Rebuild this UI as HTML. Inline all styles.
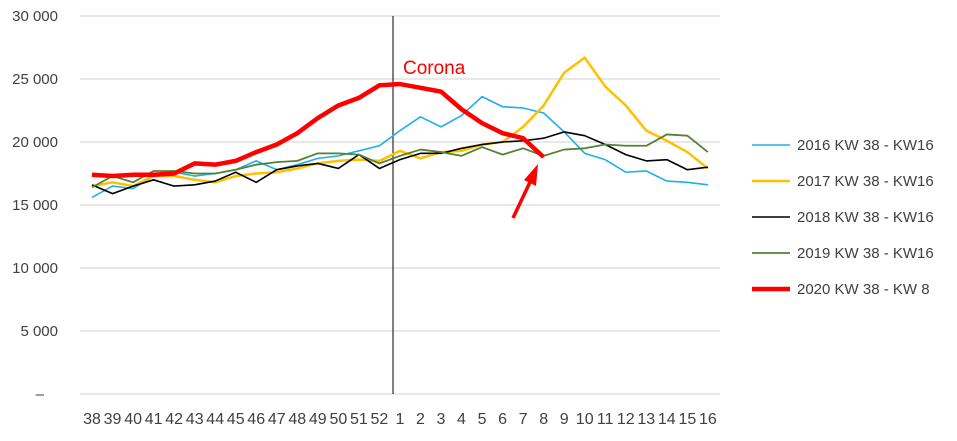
<!DOCTYPE html>
<html><head><meta charset="utf-8"><style>
body{margin:0;background:#fff;}
text{font-family:"Liberation Sans",sans-serif;}
</style></head><body>
<svg width="957" height="436" viewBox="0 0 957 436" xmlns="http://www.w3.org/2000/svg">
<g stroke="#d9d9d9" stroke-width="1.3">
<line x1="80" y1="16" x2="720" y2="16"/><line x1="80" y1="79" x2="720" y2="79"/>
<line x1="80" y1="142" x2="720" y2="142"/><line x1="80" y1="205" x2="720" y2="205"/>
<line x1="80" y1="268" x2="720" y2="268"/><line x1="80" y1="331" x2="720" y2="331"/>
<line x1="80" y1="394" x2="720" y2="394"/>
</g>
<g font-size="15" fill="#404040" text-anchor="end">
<text x="58" y="21">30 000</text><text x="58" y="84">25 000</text>
<text x="58" y="147">20 000</text><text x="58" y="210">15 000</text>
<text x="58" y="273">10 000</text><text x="58" y="336">5 000</text>
<text x="44" y="399">–</text>
</g>
<g font-size="16" fill="#404040" text-anchor="middle">
<text x="92" y="424">38</text><text x="112.5" y="424">39</text><text x="133.1" y="424">40</text><text x="153.6" y="424">41</text><text x="174.1" y="424">42</text><text x="194.7" y="424">43</text><text x="215.2" y="424">44</text><text x="235.7" y="424">45</text><text x="256.2" y="424">46</text><text x="276.8" y="424">47</text><text x="297.3" y="424">48</text><text x="317.8" y="424">49</text><text x="338.4" y="424">50</text><text x="358.9" y="424">51</text><text x="379.4" y="424">52</text><text x="400" y="424">1</text><text x="420.5" y="424">2</text><text x="441" y="424">3</text><text x="461.5" y="424">4</text><text x="482.1" y="424">5</text><text x="502.6" y="424">6</text><text x="523.1" y="424">7</text><text x="543.7" y="424">8</text><text x="564.2" y="424">9</text><text x="584.7" y="424">10</text><text x="605.2" y="424">11</text><text x="625.8" y="424">12</text><text x="646.3" y="424">13</text><text x="666.8" y="424">14</text><text x="687.4" y="424">15</text><text x="707.9" y="424">16</text>
</g>
<line x1="393" y1="16" x2="393" y2="394" stroke="#000" stroke-width="1"/>
<g transform="translate(92,394) scale(20.53,-0.0126)" fill="none" stroke-linejoin="round">
<polyline vector-effect="non-scaling-stroke" stroke="#1fb0e8" stroke-width="1.6" points="0,15600 1,16500 2,16300 3,17300 4,17600 5,17300 6,17500 7,17800 8,18500 9,17800 10,18200 11,18700 12,18900 13,19300 14,19700 15,20900 16,22000 17,21200 18,22100 19,23600 20,22800 21,22700 22,22300 23,20800 24,19100 25,18600 26,17600 27,17700 28,16900 29,16800 30,16600"/>
<polyline vector-effect="non-scaling-stroke" stroke="#ffc000" stroke-width="2.5" points="0,16500 1,16800 2,16500 3,17300 4,17300 5,17000 6,16800 7,17300 8,17500 9,17600 10,17900 11,18300 12,18500 13,18600 14,18500 15,19300 16,18700 17,19200 18,19300 19,19800 20,20000 21,21200 22,22900 23,25500 24,26700 25,24400 26,22900 27,20900 28,20100 29,19200 30,17900"/>
<polyline vector-effect="non-scaling-stroke" stroke="#000" stroke-width="1.6" points="0,16600 1,15900 2,16500 3,17000 4,16500 5,16600 6,16900 7,17600 8,16800 9,17800 10,18100 11,18300 12,17900 13,19000 14,17900 15,18600 16,19100 17,19100 18,19500 19,19800 20,20000 21,20100 22,20300 23,20800 24,20500 25,19800 26,19000 27,18500 28,18600 29,17800 30,18000"/>
<polyline vector-effect="non-scaling-stroke" stroke="#548235" stroke-width="1.8" points="0,16400 1,17300 2,16800 3,17700 4,17700 5,17500 6,17500 7,17800 8,18200 9,18400 10,18500 11,19100 12,19100 13,19000 14,18300 15,18900 16,19400 17,19200 18,18900 19,19600 20,19000 21,19500 22,18900 23,19400 24,19500 25,19800 26,19700 27,19700 28,20600 29,20500 30,19200"/>
<polyline vector-effect="non-scaling-stroke" stroke="#ff0000" stroke-width="4.5" points="0,17400 1,17300 2,17400 3,17400 4,17500 5,18300 6,18200 7,18500 8,19200 9,19800 10,20700 11,21900 12,22900 13,23500 14,24500 15,24600 16,24300 17,24000 18,22600 19,21500 20,20700 21,20300 22,18800"/>
</g>
<text x="403" y="74" font-size="19" fill="#ff0000">Corona</text>
<line x1="513" y1="218" x2="531" y2="180" stroke="#ff0000" stroke-width="3.5"/>
<polygon points="538,164 524,180 536,186" fill="#ff0000"/>
<g font-size="15" fill="#404040">
<line x1="752" y1="145" x2="790" y2="145" stroke="#1fb0e8" stroke-width="1.6"/><text x="797" y="150">2016 KW 38 - KW16</text>
<line x1="752" y1="181" x2="790" y2="181" stroke="#ffc000" stroke-width="2.5"/><text x="797" y="186">2017 KW 38 - KW16</text>
<line x1="752" y1="217" x2="790" y2="217" stroke="#000" stroke-width="1.6"/><text x="797" y="222">2018 KW 38 - KW16</text>
<line x1="752" y1="253" x2="790" y2="253" stroke="#548235" stroke-width="1.8"/><text x="797" y="258">2019 KW 38 - KW16</text>
<line x1="752" y1="289" x2="790" y2="289" stroke="#ff0000" stroke-width="4.5"/><text x="797" y="294">2020 KW 38 - KW 8</text>
</g>
</svg>
</body></html>
